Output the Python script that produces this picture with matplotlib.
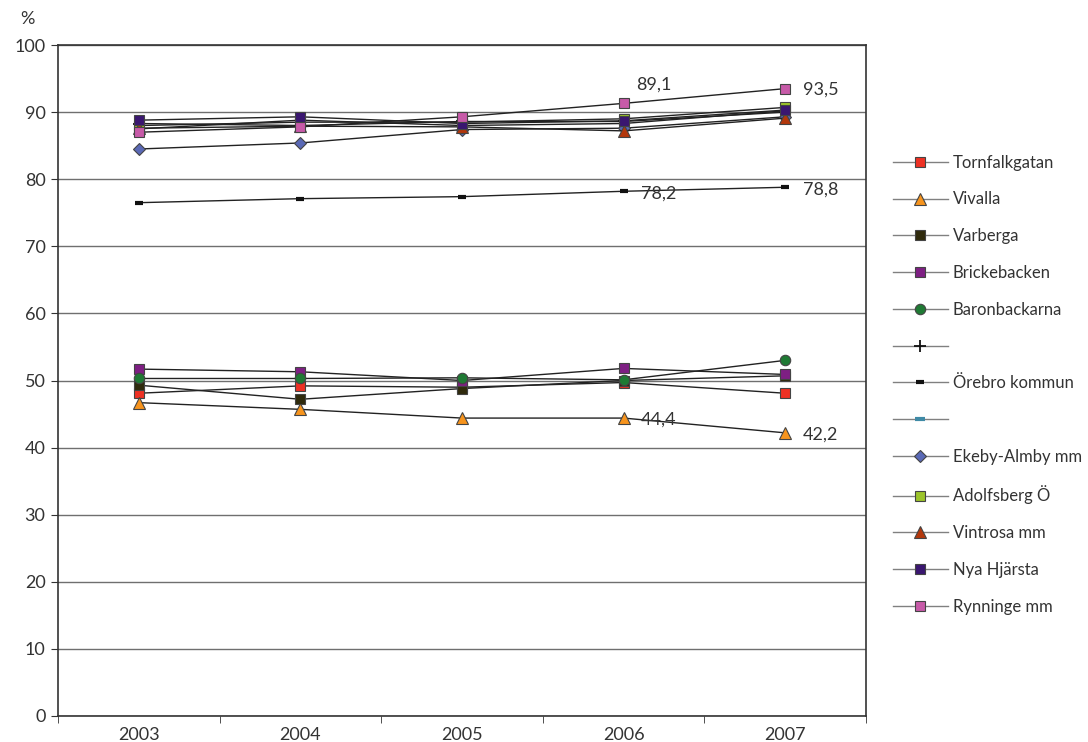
import matplotlib
matplotlib.use("Agg")
import matplotlib.pyplot as plt

plt.rcParams['font.family'] = ['Lato', 'DejaVu Sans']

years = ["2003", "2004", "2005", "2006", "2007"]

tornfalkgatan = [48.1, 49.2, 49.0, 49.7, 48.1]
vivalla = [46.7, 45.7, 44.4, 44.4, 42.2]
varberga = [49.3, 47.2, 48.8, 50.0, 50.7]
brickebacken = [51.7, 51.3, 50.0, 51.8, 50.9]
baronbackarna = [50.3, 50.3, 50.4, 50.1, 53.0]
plus_series = [88.3, 88.0, 88.6, 88.6, 90.0]
orebro_kommun = [76.5, 77.1, 77.4, 78.2, 78.8]
blank_series = [87.5, 88.8, 88.0, 88.3, 90.2]
ekeby_almby = [84.5, 85.4, 87.4, 87.6, 89.3]
adolfsberg = [88.0, 88.5, 88.5, 89.0, 90.7]
vintrosa = [87.6, 87.9, 87.8, 87.2, 89.1]
nya_hjarsta = [88.8, 89.3, 88.3, 88.7, 90.3]
rynninge = [87.0, 87.8, 89.3, 91.3, 93.5]

# label, values, marker, face colour, marker size
series = [
    ("Tornfalkgatan", tornfalkgatan, "s", "#ee3124", 7),
    ("Vivalla", vivalla, "^", "#f7941d", 8.5),
    ("Varberga", varberga, "s", "#2f2a0c", 7),
    ("Brickebacken", brickebacken, "s", "#7e1f83", 7),
    ("Baronbackarna", baronbackarna, "o", "#1f7a34", 7.5),
    (" ", plus_series, "+", "#111111", 9),
    ("Örebro kommun", orebro_kommun, "_", "#111111", 6),
    ("  ", blank_series, "_", "#3f8aa6", 7),
    ("Ekeby-Almby mm", ekeby_almby, "D", "#5a69b6", 6.5),
    ("Adolfsberg Ö", adolfsberg, "s", "#9cc42a", 7),
    ("Vintrosa mm", vintrosa, "^", "#b3370b", 8.5),
    ("Nya Hjärsta", nya_hjarsta, "s", "#3a1670", 7),
    ("Rynninge mm", rynninge, "s", "#c75aa8", 7),
]

text_col = "#333333"
fs = 13

fig = plt.figure(figsize=(10.88, 7.42), dpi=100)
ax = fig.add_axes([58 / 1088, 26 / 742, 808 / 1088, 671 / 742])

x = list(range(len(years)))
handles = []
for name, vals, mk, col, ms in series:
    if mk in ("+", "_"):
        line, = ax.plot(x, vals, color="#222222", lw=1, marker=mk, markersize=ms,
                        markeredgecolor=col, markeredgewidth=3 if mk == "_" else 1.3, zorder=3)
    else:
        line, = ax.plot(x, vals, color="#222222", lw=1, marker=mk, markersize=ms,
                        markerfacecolor=col, markeredgecolor="#444444", markeredgewidth=0.8, zorder=3)
    handles.append(line)

# value labels
def label(xi, yi, txt, dx=17, dy=0):
    ax.annotate(txt, (xi, yi), xytext=(dx * 0.72, dy * 0.72), textcoords="offset points",
                ha="left", va="center", fontsize=fs, color=text_col)

label(3, rynninge[3], "89,1", dx=13, dy=19)
label(4, rynninge[4], "93,5", dx=18, dy=-1)
label(3, orebro_kommun[3], "78,2", dx=17, dy=-2)
label(4, orebro_kommun[4], "78,8", dx=18, dy=-2)
label(3, vivalla[3], "44,4", dx=17, dy=-2)
label(4, vivalla[4], "42,2", dx=18, dy=-2)

ax.set_xlim(-0.5, 4.5)
ax.set_ylim(0, 100)
ax.set_yticks(range(0, 101, 10))
ax.yaxis.grid(True, color="#6f6f6f", lw=1)
ax.set_axisbelow(True)
ax.set_xticks(x)
ax.set_xticklabels(years)
ax.set_xticks([i + 0.5 for i in range(-1, 5)], minor=True)
ax.tick_params(axis="x", which="major", length=0, pad=8, labelsize=fs, labelcolor=text_col)
ax.tick_params(axis="x", which="minor", length=5, direction="out", color="#333333")
ax.tick_params(axis="y", length=5, direction="out", color="#333333", pad=4,
               labelsize=fs, labelcolor=text_col)
for sp in ax.spines.values():
    sp.set_color("#333333")
    sp.set_linewidth(1.2)

fig.text(27 / 1088, 1 - 19 / 742, "%", ha="center", va="center", fontsize=fs, color=text_col)

leg = fig.legend(handles, [s[0] for s in series], loc="upper left",
                 bbox_to_anchor=(886 / 1088, 1 - 148 / 742), frameon=False,
                 fontsize=12, handlelength=3.3, labelspacing=1.245, handletextpad=0.3,
                 borderaxespad=0)
for h in leg.legend_handles:
    h.set_color("#808080")
for t in leg.get_texts():
    t.set_color(text_col)

fig.savefig("out.png", dpi=100)
